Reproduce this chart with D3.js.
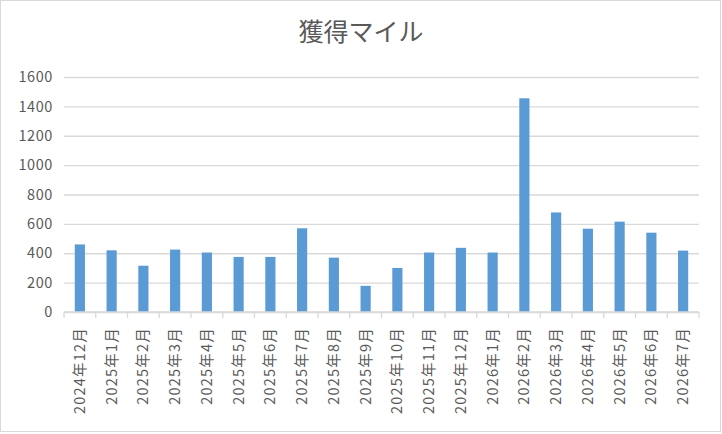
<!DOCTYPE html>
<html>
<head>
<meta charset="utf-8">
<script src="https://cdn.jsdelivr.net/npm/d3@7"></script>
<style>
  body { margin: 0; background: #fff; }
  text { font-family: "Noto Sans CJK JP", "Noto Sans", sans-serif; fill: #595959; }
</style>
</head>
<body>
<div id="chart"></div>
<script>
// data
const months = ["2024年12月", "2025年1月", "2025年2月", "2025年3月", "2025年4月", "2025年5月",
  "2025年6月", "2025年7月", "2025年8月", "2025年9月", "2025年10月", "2025年11月",
  "2025年12月", "2026年1月", "2026年2月", "2026年3月", "2026年4月", "2026年5月",
  "2026年6月", "2026年7月"];
const miles = [460, 420, 315, 425, 405, 375, 375, 570, 370, 178, 300, 405,
  437, 405, 1455, 678, 567, 615, 540, 418];
const yTicks = [0, 200, 400, 600, 800, 1000, 1200, 1400, 1600];

let W = 722, H = 434;
let margin = {top: 77, right: 23, bottom: 122, left: 64},
    width = W - margin.left - margin.right,
    height = H - margin.top - margin.bottom;

let svg = d3.select("#chart").append("svg")
  .attr("width", W)
  .attr("height", H);

// outer frame
svg.append("rect")
  .attr("x", 0.5).attr("y", 0.5)
  .attr("width", 720).attr("height", 431)
  .attr("fill", "#fff")
  .attr("stroke", "#d9d9d9");

svg.append("text")
  .attr("x", W / 2)
  .attr("y", 41)
  .attr("text-anchor", "middle")
  .style("font-size", "25px")
  .text("獲得マイル");

let g = svg.append("g")
  .attr("transform", "translate(" + margin.left + "," + margin.top + ")");

let x = d3.scaleBand()
  .domain(months)
  .range([0, width])
  .paddingInner(0.68)
  .paddingOuter(0.34);

let y = d3.scaleLinear()
  .domain([0, 1600])
  .range([height, 0]);

// gridlines
g.append("g")
  .call(d3.axisLeft(y).tickValues(yTicks).tickSize(-width).tickFormat(""))
  .call(a => a.select(".domain").remove())
  .selectAll("line")
  .attr("stroke", "#d9d9d9")
  .attr("stroke-width", 1.3);

// y labels
g.append("g")
  .call(d3.axisLeft(y).tickValues(yTicks).tickSize(0).tickPadding(11).tickFormat(d3.format("d")))
  .call(a => a.select(".domain").remove())
  .selectAll("text")
  .style("font-size", "14.5px")
  .style("letter-spacing", "0.6px")
  .attr("fill", "#595959");

// bars
g.selectAll("rect.bar")
  .data(miles)
  .enter()
  .append("rect")
  .attr("class", "bar")
  .attr("x", (d, i) => x(months[i]))
  .attr("y", d => y(d))
  .attr("width", x.bandwidth())
  .attr("height", d => height - y(d))
  .attr("fill", "#5b9bd5");

// x axis with category boundary ticks
let step = x.step();
let xAxis = g.append("g")
  .attr("transform", "translate(0," + height + ")");
xAxis.append("line")
  .attr("x1", 0).attr("x2", width)
  .attr("stroke", "#d9d9d9").attr("stroke-width", 1.3);
xAxis.selectAll("line.tick")
  .data(d3.range(months.length + 1))
  .enter()
  .append("line")
  .attr("class", "tick")
  .attr("x1", i => i * step).attr("x2", i => i * step)
  .attr("y1", 0).attr("y2", 6)
  .attr("stroke", "#d9d9d9").attr("stroke-width", 1.3);
xAxis.selectAll("text")
  .data(months)
  .enter()
  .append("text")
  .attr("transform", d => "translate(" + (x(d) + x.bandwidth() / 2 + 5) + ",15) rotate(-90)")
  .attr("text-anchor", "end")
  .style("font-size", "14.5px")
  .style("letter-spacing", "1.2px")
  .text(d => d);
</script>
</body>
</html>
